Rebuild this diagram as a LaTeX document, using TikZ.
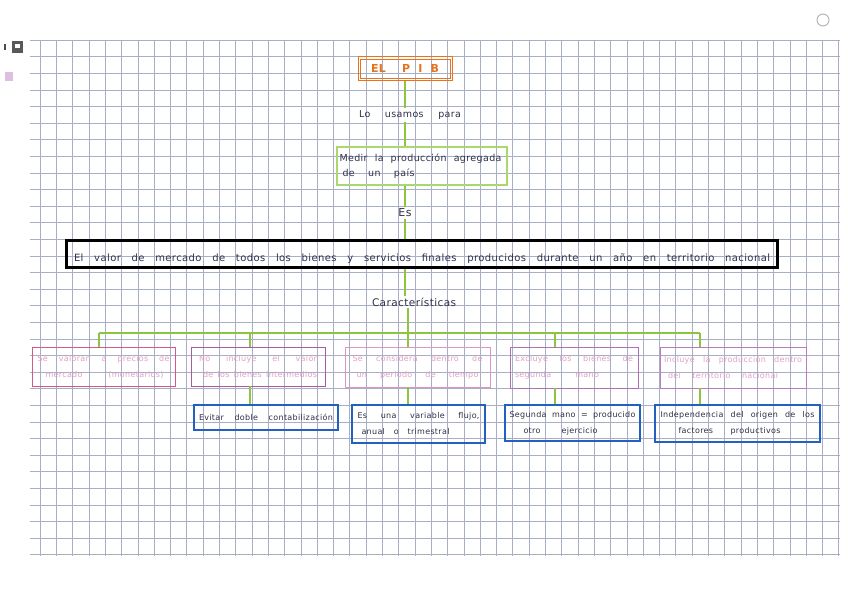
\documentclass[tikz,border=0pt]{standalone}
\usepackage{fontspec}
\setmainfont[LetterSpace=4]{DejaVu Sans}
\definecolor{gridc}{HTML}{A8AEC4}
\definecolor{pibor}{HTML}{E8731E}
\definecolor{lime}{HTML}{8CC63F}
\definecolor{lgreen}{HTML}{A9D86E}
\definecolor{pk1}{HTML}{D05A8C}
\definecolor{pk2}{HTML}{A85AA8}
\definecolor{pk3}{HTML}{DE94C4}
\definecolor{pk4}{HTML}{B070B4}
\definecolor{pk5}{HTML}{B87CC0}
\definecolor{pktext}{HTML}{E0A0C8}
\definecolor{bluebox}{HTML}{2262BE}
\definecolor{inkc}{HTML}{30304A}
\newcommand{\sline}[2]{\makebox[#1][s]{#2}}
\tikzset{
  gline/.style={lime, line width=2pt},
  boxnode/.style={rectangle, inner sep=0pt},
  pinkbox/.style={boxnode, line width=0.9pt, text=pktext, font=\fontsize{8}{16}\selectfont, align=left},
  bluebx/.style={boxnode, draw=bluebox, line width=1.3pt, text=inkc, font=\fontsize{8}{16}\selectfont, align=left},
  lbl/.style={inner sep=2pt, text=inkc, font=\fontsize{9.5}{11}\selectfont},
}
\begin{document}
\begin{tikzpicture}[x=1pt,y=-1pt]
\useasboundingbox (0,0) rectangle (848,594);
\fill[white] (0,0) rectangle (848,594);
% grid
\foreach \i in {0,...,49} {
  \draw[gridc, line width=0.45pt] ({40+16.3*\i},40) -- ({40+16.3*\i},556);
}
\foreach \j in {0,...,31} {
  \draw[gridc, line width=0.45pt] (30,{40+16.6*\j}) -- (840,{40+16.6*\j});
}
% scan marks
\fill[gray!70!black] (12,41) rectangle (23,53);
\fill[white] (15,44) rectangle (20,48);
\fill[gray!60!black] (4,44) rectangle (6,50);
\fill[violet!25] (5,72) rectangle (13,81);
\draw[gray!70, line width=0.8pt] (823,20) circle (6);
% nodes
\node[boxnode, draw=pibor, line width=1pt,
      minimum width=94pt, minimum height=23pt, text=pibor,
      font=\fontsize{11}{13}\selectfont\bfseries] (pib) at (405,68.5) {\sline{68pt}{EL \ P I B}};
\draw[pibor, line width=0.8pt] ([shift={(2.5pt,-2.5pt)}]pib.north west) rectangle ([shift={(-2.5pt,2.5pt)}]pib.south east);
\node[lbl] (usamos) at (410,115) {\sline{102pt}{Lo usamos para}};
\node[boxnode, draw=lgreen, line width=1.2pt, minimum width=170pt, minimum height=38pt,
      text=inkc, font=\fontsize{9.5}{15}\selectfont, align=left] (medir) at (422,166)
      {\sline{162pt}{Medir la producción agregada}\\\hspace*{3pt}\sline{72pt}{de un país}\hspace*{90pt}};
\node[lbl, font=\fontsize{11}{13}\selectfont] (es) at (405,213) {Es};
\node[boxnode, draw=black, line width=1.8pt, minimum width=712pt, minimum height=28pt,
      text=inkc, font=\fontsize{10}{11}\selectfont] (def) at (422,254)
      {\rule{0pt}{18pt}\sline{696pt}{El valor de mercado de todos los bienes y servicios finales producidos durante un año en territorio nacional}};
\draw[black, line width=0.6pt] ([shift={(2.2pt,-2.2pt)}]def.north west) rectangle ([shift={(-2.2pt,2.2pt)}]def.south east);
\node[lbl, font=\fontsize{10.5}{12}\selectfont] (car) at (420,302) {\sline{96pt}{Características}};
% pink boxes
\node[pinkbox, draw=pk1, minimum width=143pt, minimum height=39pt] (p1) at (103.5,366.5)
  {\sline{132pt}{Se valoran a precios de}\\\hspace*{8pt}\sline{118pt}{mercado (monetarios)}};
\node[pinkbox, draw=pk2, minimum width=134pt, minimum height=39pt] (p2) at (258,366.5)
  {\sline{118pt}{No incluye el valor}\\\hspace*{4pt}\sline{114pt}{de los bienes intermedios}};
\node[pinkbox, draw=pk3, minimum width=145pt, minimum height=40pt] (p3) at (417.5,367)
  {\sline{130pt}{Se considera dentro de}\\\hspace*{4pt}\sline{122pt}{un periodo de tiempo}};
\node[pinkbox, draw=pk4, minimum width=128pt, minimum height=41pt] (p4) at (574,367.5)
  {\sline{118pt}{Excluye los bienes de}\\\sline{84pt}{segunda mano}\hspace*{34pt}};
\node[pinkbox, draw=pk5, minimum width=146pt, minimum height=41pt] (p5) at (733,367.5)
  {\sline{138pt}{Incluye la producción dentro}\\\hspace*{4pt}\sline{110pt}{del territorio nacional}\hspace*{24pt}};
% blue boxes
\node[bluebx, minimum width=144pt, minimum height=25pt] (b2) at (266,417.5)
  {\sline{134pt}{Evitar doble contabilización}};
\node[bluebx, minimum width=133pt, minimum height=38pt] (b3) at (418.5,424)
  {\sline{122pt}{Es una variable flujo,}\\\hspace*{4pt}\sline{88pt}{anual o trimestral}\hspace*{30pt}};
\node[bluebx, minimum width=135pt, minimum height=36pt] (b4) at (572.5,423)
  {\sline{126pt}{Segunda mano = producido}\\\hspace*{14pt}\sline{74pt}{otro ejercicio}\hspace*{38pt}};
\node[bluebx, minimum width=165pt, minimum height=37pt] (b5) at (737.5,423.5)
  {\sline{154pt}{Independencia del origen de los}\\\hspace*{18pt}\sline{102pt}{factores productivos}\hspace*{34pt}};
% connectors
\coordinate (axis) at (405,0);
\draw[gline] (pib.south) -- (pib.south |- usamos.north);
\draw[gline] (axis |- usamos.south) -- (axis |- medir.north);
\draw[gline] (axis |- medir.south) -- (es.north);
\draw[gline] (es.south) -- (es.south |- def.north);
\draw[gline] (axis |- def.south) -- (axis |- car.north);
\coordinate (x1) at (99,333);
\coordinate (x2) at (250,333);
\coordinate (x3) at (408,333);
\coordinate (x4) at (555,333);
\coordinate (x5) at (700,333);
\draw[gline] (car.south -| x3) -- (x3);
\draw[gline] (x1) -- (x5);
\foreach \k in {1,...,5} {
  \draw[gline] (x\k) -- (x\k |- p\k.north);
}
\foreach \k in {2,...,5} {
  \draw[gline] (x\k |- p\k.south) -- (x\k |- b\k.north);
}
\end{tikzpicture}
\end{document}
